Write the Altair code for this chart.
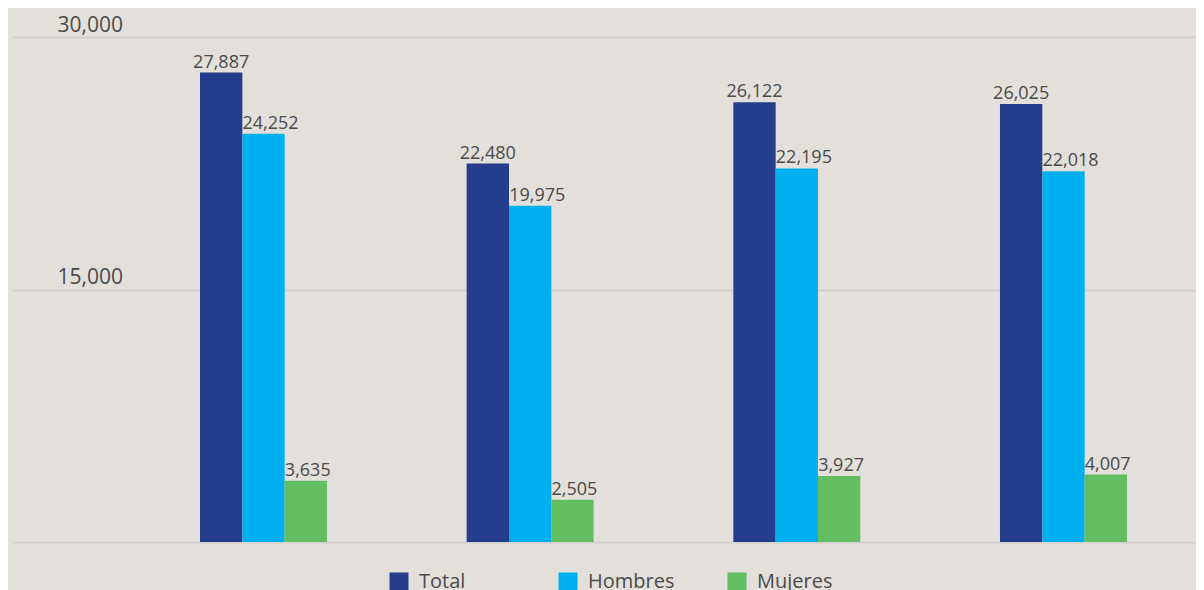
import altair as alt
import pandas as pd

groups = ["Grupo 1", "Grupo 2", "Grupo 3", "Grupo 4"]
series = ["Total", "Hombres", "Mujeres"]
total = [27887, 22480, 26122, 26025]
hombres = [24252, 19975, 22195, 22018]
mujeres = [3635, 2505, 3927, 4007]
colors = ["#243d8c", "#00b0ee", "#63be62"]

rows = []
for i, g in enumerate(groups):
    for s, vals in zip(series, [total, hombres, mujeres]):
        rows.append({"grupo": g, "serie": s, "valor": vals[i]})
df = pd.DataFrame(rows)

FONT = "Open Sans"
TXT = "#4a4a4a"

x = alt.X("grupo:N", sort=groups, axis=None,
          scale=alt.Scale(paddingInner=0.5237, paddingOuter=0.4819, align=0.7315))
xoff = alt.XOffset("serie:N", sort=series,
                   scale=alt.Scale(domain=series, paddingInner=0, paddingOuter=0))
y = alt.Y("valor:Q",
          scale=alt.Scale(domain=[0, 30000], nice=False),
          axis=alt.Axis(values=[0, 15000, 30000], title=None,
                        labelExpr="datum.value == 0 ? '' : format(datum.value, ',')",
                        labelAlign="left", labelBaseline="alphabetic",
                        labelPadding=-45, labelOffset=-6, tickSize=0,
                        domain=False, ticks=False,
                        labelFont=FONT, labelFontSize=21, labelColor=TXT,
                        grid=True, gridColor="#d3cfca", gridWidth=2))

base = alt.Chart(df)

bars = base.mark_bar().encode(
    x=x, xOffset=xoff, y=y,
    color=alt.Color("serie:N", sort=series,
                    scale=alt.Scale(domain=series, range=colors),
                    legend=alt.Legend(orient="none", direction="horizontal",
                                      legendX=377, legendY=535, title=None,
                                      symbolType="square", symbolSize=361,
                                      symbolStrokeWidth=0, symbolOpacity=1,
                                      labelFont=FONT, labelFontSize=20,
                                      labelColor=TXT, labelOffset=10,
                                      gridAlign="all", columnPadding=52,
                                      padding=0)),
)

labels_total = base.transform_filter(alt.datum.serie == "Total").mark_text(
    baseline="alphabetic", dy=-5, font=FONT, fontSize=18, color=TXT
).encode(
    x=x, xOffset=xoff, y=y,
    text=alt.Text("valor:Q", format=","),
)

labels_other = base.transform_filter(alt.datum.serie != "Total").mark_text(
    baseline="alphabetic", align="left", dx=-21, dy=-5, font=FONT, fontSize=18,
    color=TXT
).encode(
    x=x, xOffset=xoff, y=y,
    text=alt.Text("valor:Q", format=","),
)

chart = alt.layer(bars, labels_total, labels_other).properties(
    width=1184, height=505,
    background="#e3e0dc",
    padding={"left": 4, "top": 29, "right": 0, "bottom": 60},
    autosize=alt.AutoSizeParams(type="none"),
).configure_view(stroke=None)

chart.save("out.html", embed_options={"renderer": "svg", "actions": False})
